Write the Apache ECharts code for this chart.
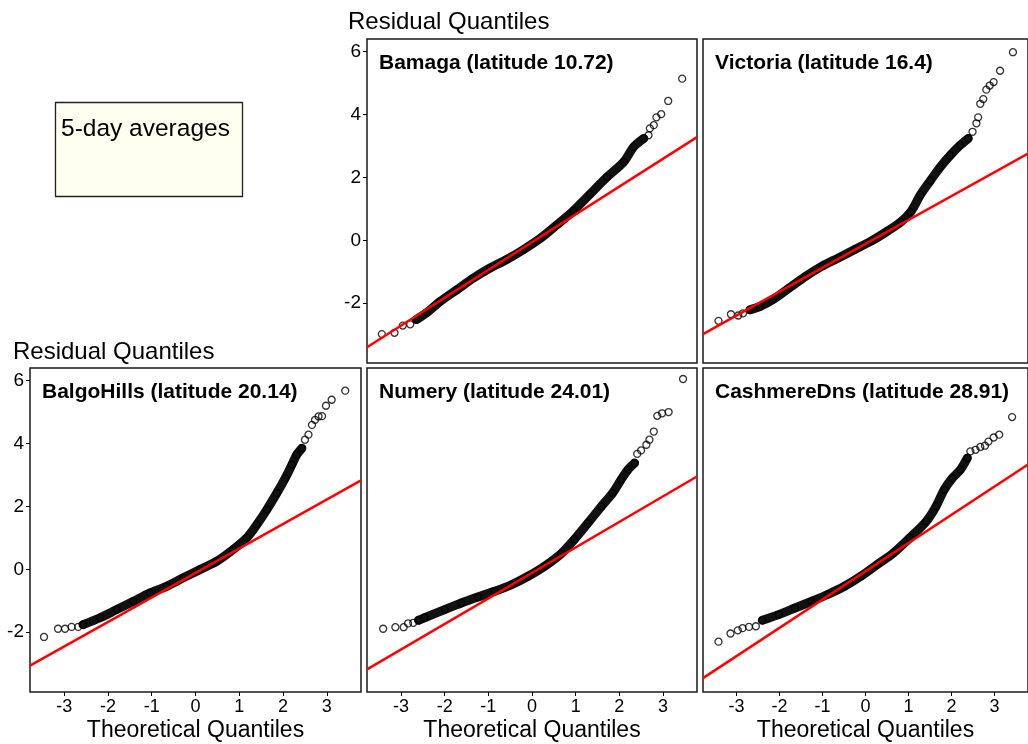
<!DOCTYPE html>
<html><head><meta charset="utf-8">
<script src="https://cdn.jsdelivr.net/npm/echarts@6/dist/echarts.min.js"></script>
<style>html,body{margin:0;padding:0;background:#fff}#c{width:1028px;height:744px}</style>
</head><body><div id="c"></div>
<script>
// ---- data ----
const stationTitles = ['Bamaga (latitude 10.72)','Victoria (latitude 16.4)','BalgoHills (latitude 20.14)','Numery (latitude 24.01)','CashmereDns (latitude 28.91)'];
const xTicks = [-3,-2,-1,0,1,2,3];
const yTicks = [-2,0,2,4,6];

const bamagaLow  = [[-3.44,-2.98],[-3.15,-2.94],[-2.96,-2.71],[-2.79,-2.67]];
const bamagaBand = [[-2.65,-2.52],[-2.41,-2.30],[-2.11,-1.95],[-1.72,-1.57],[-1.34,-1.20],[-0.96,-0.88],[-0.58,-0.61],[-0.19,-0.29],[0.19,0.06],[0.57,0.49],[0.95,0.94],[1.33,1.47],[1.72,2.01],[2.10,2.49],[2.33,2.97],[2.56,3.24]];
const bamagaHigh = [[2.67,3.34],[2.70,3.56],[2.79,3.66],[2.85,3.91],[2.96,4.01],[3.12,4.43],[3.44,5.14]];
const bamagaFit  = [[-3.78,-3.40],[3.78,3.28]];

const victoriaLow  = [[-3.42,-2.56],[-3.13,-2.35],[-2.96,-2.39],[-2.85,-2.32]];
const victoriaBand = [[-2.69,-2.21],[-2.46,-2.11],[-2.16,-1.89],[-1.78,-1.52],[-1.39,-1.14],[-1.01,-0.82],[-0.63,-0.56],[-0.25,-0.29],[0.14,-0.02],[0.52,0.30],[0.82,0.58],[1.05,0.90],[1.28,1.45],[1.51,1.90],[1.74,2.33],[1.97,2.70],[2.20,3.02],[2.39,3.24]];
const victoriaHigh = [[2.49,3.45],[2.58,3.72],[2.62,3.91],[2.67,4.34],[2.74,4.49],[2.81,4.79],[2.89,4.92],[2.98,5.03],[3.13,5.39],[3.43,5.98]];
const victoriaFit  = [[-3.78,-2.98],[3.78,2.76]];

const balgoLow  = [[-3.46,-2.15],[-3.14,-1.89],[-2.98,-1.89],[-2.83,-1.83],[-2.68,-1.83]];
const balgoBand = [[-2.57,-1.76],[-2.18,-1.54],[-1.80,-1.28],[-1.42,-1.02],[-1.04,-0.75],[-0.66,-0.54],[-0.28,-0.27],[0.10,-0.01],[0.48,0.25],[0.86,0.63],[1.17,1.00],[1.40,1.42],[1.63,1.90],[1.86,2.43],[2.05,2.90],[2.20,3.32],[2.31,3.64],[2.43,3.85]];
const balgoHigh = [[2.50,4.12],[2.58,4.28],[2.66,4.59],[2.73,4.75],[2.81,4.86],[2.89,4.87],[2.98,5.20],[3.11,5.39],[3.42,5.68]];
const balgoFit  = [[-3.78,-3.06],[3.78,2.83]];

const numeryLow  = [[-3.41,-1.89],[-3.13,-1.84],[-2.94,-1.84],[-2.84,-1.72],[-2.72,-1.70]];
const numeryBand = [[-2.60,-1.62],[-2.46,-1.54],[-2.00,-1.28],[-1.62,-1.07],[-1.24,-0.88],[-0.86,-0.70],[-0.47,-0.49],[-0.09,-0.22],[0.29,0.10],[0.67,0.50],[0.97,0.95],[1.28,1.47],[1.59,2.00],[1.85,2.43],[2.04,2.85],[2.20,3.17],[2.35,3.38]];
const numeryHigh = [[2.41,3.67],[2.50,3.78],[2.62,3.96],[2.69,4.12],[2.79,4.38],[2.87,4.88],[2.98,4.96],[3.13,5.00],[3.46,6.05]];
const numeryFit  = [[-3.78,-3.18],[3.78,2.95]];

const cashLow  = [[-3.42,-2.30],[-3.14,-2.04],[-2.97,-1.94],[-2.86,-1.87],[-2.71,-1.83],[-2.55,-1.81]];
const cashBand = [[-2.40,-1.62],[-2.02,-1.44],[-1.64,-1.23],[-1.26,-1.02],[-0.88,-0.80],[-0.49,-0.54],[-0.11,-0.22],[0.27,0.15],[0.65,0.52],[1.03,1.00],[1.41,1.52],[1.64,2.00],[1.83,2.53],[2.02,2.90],[2.21,3.17],[2.37,3.54]];
const cashHigh = [[2.44,3.75],[2.56,3.80],[2.67,3.89],[2.78,3.93],[2.86,4.06],[2.98,4.19],[3.11,4.28],[3.41,4.84]];
const cashFit  = [[-3.78,-3.46],[3.78,3.33]];

// ---- layout ----
const panels = [
  {low:bamagaLow, band:bamagaBand, high:bamagaHigh, fit:bamagaFit, grid:{left:367,top:39,width:330,height:324}, yLab:true,  xLab:false},
  {low:victoriaLow, band:victoriaBand, high:victoriaHigh, fit:victoriaFit, grid:{left:703,top:39,width:330,height:324}, yLab:false, xLab:false},
  {low:balgoLow, band:balgoBand, high:balgoHigh, fit:balgoFit, grid:{left:30,top:368,width:331,height:324}, yLab:true, xLab:true},
  {low:numeryLow, band:numeryBand, high:numeryHigh, fit:numeryFit, grid:{left:367,top:368,width:330,height:324}, yLab:false, xLab:true},
  {low:cashLow, band:cashBand, high:cashHigh, fit:cashFit, grid:{left:703,top:368,width:330,height:324}, yLab:false, xLab:true}
];

const FONT = 'Liberation Sans, Arial, sans-serif';
const grid=[], xAxis=[], yAxis=[], series=[], title=[];
panels.forEach((p,i)=>{
  grid.push(Object.assign({show:true, borderColor:'#1a1a1a', borderWidth:1.5, backgroundColor:'#fff', containLabel:false}, p.grid));
  xAxis.push({type:'value', gridIndex:i, min:-3.78, max:3.78, position:'bottom',
    axisLine:{show:false, onZero:false}, splitLine:{show:false},
    axisTick:{show:p.xLab, inside:false, length:4, lineStyle:{color:'#000', width:1}, customValues:xTicks},
    axisLabel:{show:p.xLab, margin:6, color:'#000', fontSize:18, fontFamily:FONT, customValues:xTicks},
    name:p.xLab?'Theoretical Quantiles':'', nameLocation:'middle', nameGap:27,
    nameTextStyle:{color:'#000', fontSize:23, fontFamily:FONT}});
  yAxis.push({type:'value', gridIndex:i, min:-3.9, max:6.4, position:'left',
    axisLine:{show:false, onZero:false}, splitLine:{show:false},
    axisTick:{show:p.yLab, inside:false, length:4, lineStyle:{color:'#000', width:1}, customValues:yTicks},
    axisLabel:{show:p.yLab, margin:6, color:'#000', fontSize:19, fontFamily:FONT, customValues:yTicks}});
  series.push({type:'line', xAxisIndex:i, yAxisIndex:i, data:p.band, smooth:0.3, showSymbol:false,
    lineStyle:{color:'#111', width:9, cap:'round', join:'round'}, z:2, silent:true});
  series.push({type:'scatter', xAxisIndex:i, yAxisIndex:i, data:p.low.concat(p.band, p.high), symbol:'circle', symbolSize:7,
    itemStyle:{color:'rgba(0,0,0,0)', borderColor:'#000', borderWidth:1.3}, z:3, silent:true});
  series.push({type:'line', xAxisIndex:i, yAxisIndex:i, data:p.fit, showSymbol:false,
    lineStyle:{color:'#ff0000', width:2.5}, z:4, silent:true});
  title.push({text:stationTitles[i], left:p.grid.left+12, top:p.grid.top+14, padding:0,
    textStyle:{color:'#000', fontSize:21, fontWeight:'bold', fontFamily:FONT}});
});

const chart = echarts.init(document.getElementById('c'), null, {renderer:'canvas'});
chart.setOption({
  animation:false, backgroundColor:'#fff',
  title, grid, xAxis, yAxis, series,
  graphic:[
    {type:'text', left:348, top:10, style:{text:'Residual Quantiles', font:'24px '+FONT, fill:'#000'}},
    {type:'text', left:13, top:340, style:{text:'Residual Quantiles', font:'24px '+FONT, fill:'#000'}},
    {type:'rect', shape:{x:55.5, y:102.5, width:187, height:94}, style:{fill:'#fffff0', stroke:'#222', lineWidth:1.3}},
    {type:'text', left:61, top:117, style:{text:'5-day averages', font:'24.5px '+FONT, fill:'#000'}}
  ]
});
</script></body></html>
